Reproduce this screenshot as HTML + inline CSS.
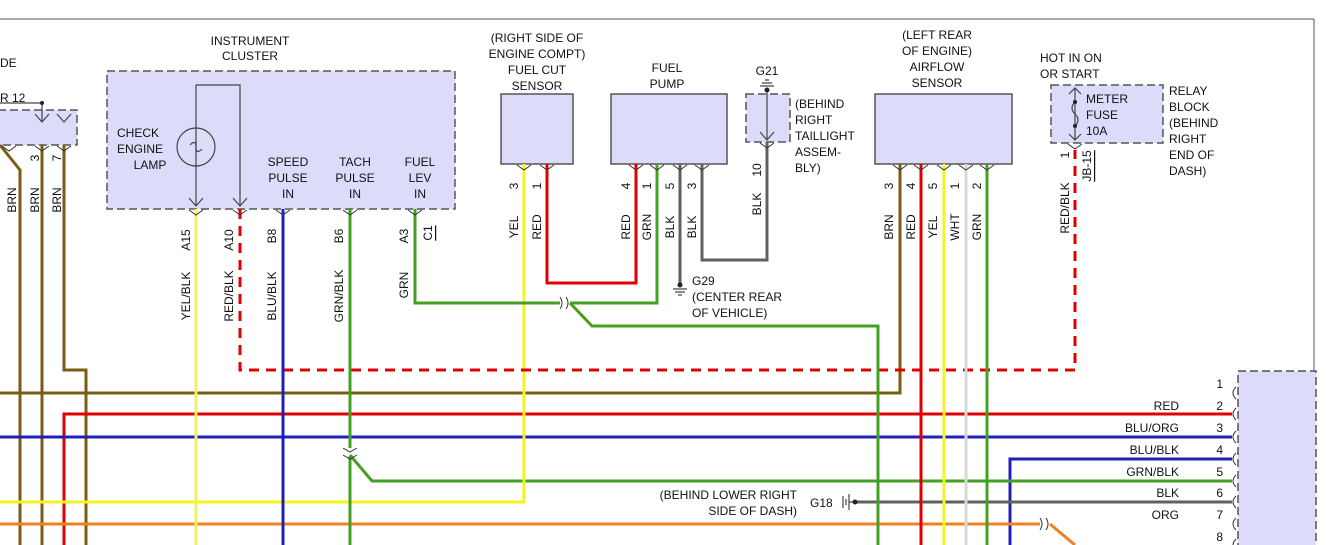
<!DOCTYPE html>
<html><head><meta charset="utf-8"><style>
html,body{margin:0;padding:0;background:#fff;}
svg{display:block;font-family:"Liberation Sans",Arial,sans-serif;font-size:12px;}
</style></head><body>
<svg width="1329" height="545" viewBox="0 0 1329 545" xmlns="http://www.w3.org/2000/svg">
<rect width="1329" height="545" fill="#fff"/>
<!-- frame -->
<line x1="0" y1="19" x2="1314" y2="19" stroke="#555" stroke-width="1"/>
<line x1="1314" y1="19" x2="1314" y2="545" stroke="#555" stroke-width="1"/>

<!-- boxes -->
<g stroke="#555" stroke-width="1.5" fill="#dcdcfa">
<rect x="-2" y="110" width="79" height="35" stroke-dasharray="8,4"/>
<rect x="107" y="71" width="348" height="138" stroke-dasharray="8,4"/>
<rect x="501" y="94" width="72" height="70"/>
<rect x="611" y="94" width="116" height="70"/>
<rect x="746" y="94" width="44" height="48" stroke-dasharray="8,4"/>
<rect x="875" y="94" width="137" height="70"/>
<rect x="1051" y="85" width="112" height="58" stroke-dasharray="8,4"/>
<rect x="1238" y="371" width="78" height="180" stroke-dasharray="8,4"/>
</g>

<!-- wires -->
<g fill="none" stroke-width="3">
<!-- left brown -->
<polyline points="0,145 20,170 20,545" stroke="#7a5c14"/>
<polyline points="42,145 42,545" stroke="#7a5c14"/>
<polyline points="64,145 64,370 86,370 86,545" stroke="#7a5c14"/>
<!-- horizontals -->
<polyline points="0,393 900,393 900,164" stroke="#7a5c14"/>
<polyline points="64,545 64,414 1232,414" stroke="#e00000"/>
<line x1="0" y1="437" x2="1232" y2="437" stroke="#2020b8"/>
<polyline points="1010,545 1010,459 1232,459" stroke="#2020b8"/>
<polyline points="350,455 372,481 1232,481" stroke="#44a020"/>
<polyline points="0,502 524,502 524,164" stroke="#f4f420"/>
<line x1="855" y1="502" x2="1232" y2="502" stroke="#606060"/>
<polyline points="0,524 1040,524" stroke="#f08020"/>
<polyline points="1050,524 1075,545" stroke="#f08020"/>
<!-- cluster wires -->
<line x1="196" y1="209" x2="196" y2="545" stroke="#f0f060"/>
<polyline points="240,209 240,370 1075,370 1075,150" stroke="#e00000" stroke-dasharray="10,7"/>
<line x1="283" y1="209" x2="283" y2="545" stroke="#2020b8"/>
<line x1="350" y1="209" x2="350" y2="448" stroke="#44a020"/>
<line x1="350" y1="456" x2="350" y2="545" stroke="#44a020"/>
<polyline points="415,209 415,303 560,303" stroke="#44a020"/>
<polyline points="570,303 657,303 657,164" stroke="#44a020"/>
<polyline points="570,303 592,326 878,326 878,545" stroke="#44a020"/>
<!-- fuel cut / pump -->
<polyline points="547,164 547,283 636,283 636,164" stroke="#e00000"/>
<line x1="680" y1="164" x2="680" y2="283" stroke="#606060"/>
<polyline points="702,164 702,260 767,260 767,142" stroke="#606060"/>
<!-- airflow -->
<line x1="921" y1="164" x2="921" y2="545" stroke="#e00000"/>
<line x1="944" y1="164" x2="944" y2="545" stroke="#f4f420"/>
<line x1="966" y1="164" x2="966" y2="545" stroke="#d8d8d8"/>
<line x1="987" y1="164" x2="987" y2="545" stroke="#44a020"/>
</g>

<!-- connector marks -->
<g fill="none" stroke="#333" stroke-width="1">
<path d="M2,146 l7,5 l7,-5 M35,146 l7,5 l7,-5 M57,146 l7,5 l7,-5"/>
<path d="M189,210 l7,5 l7,-5 M233,210 l7,5 l7,-5 M276,210 l7,5 l7,-5 M343,210 l7,5 l7,-5 M408,210 l7,5 l7,-5"/>
<path d="M517,165 l7,5 l7,-5 M540,165 l7,5 l7,-5 M629,165 l7,5 l7,-5 M650,165 l7,5 l7,-5 M673,165 l7,5 l7,-5 M695,165 l7,5 l7,-5 M760,143 l7,5 l7,-5"/>
<path d="M893,165 l7,5 l7,-5 M914,165 l7,5 l7,-5 M937,165 l7,5 l7,-5 M959,165 l7,5 l7,-5 M980,165 l7,5 l7,-5 M1068,144 l7,5 l7,-5"/>
<path d="M343,448 l7,4 l7,-4 M343,455 l7,4 l7,-4"/>
<path d="M560,297 q4,6 0,12 M566,297 q4,6 0,12 M1040,518 q4,6 0,12 M1046,518 q4,6 0,12"/>
<path d="M1236,387 q-6,6 0,12 M1236,408 q-6,6 0,12 M1236,431 q-6,6 0,12 M1236,453 q-6,6 0,12 M1236,475 q-6,6 0,12 M1236,496 q-6,6 0,12 M1236,518 q-6,6 0,12 M1236,539 q-6,6 0,12"/>
</g>

<!-- internals -->
<g fill="none" stroke="#444" stroke-width="1.2">
<polyline points="0,103 42,103 42,121 M42,103 64,103 64,121"/>
<circle cx="196" cy="147" r="19"/>
<path d="M190,145 q6,-6 6,2 q0,8 6,2"/>
<polyline points="196,85 240,85 240,206"/>
<line x1="196" y1="85" x2="196" y2="206"/>
<path d="M189,198 l7,8 l7,-8 M233,198 l7,8 l7,-8 M35,114 l7,8 l7,-8 M57,114 l7,8 l7,-8"/>
<line x1="767" y1="90" x2="767" y2="140"/>
<path d="M760,132 l7,8 l7,-8 M760,86 h14 M762,83 h10 M765,80 h4"/>
<line x1="1075" y1="88" x2="1075" y2="140"/>
<path d="M1069,94 l6,-6 l6,6 M1069,134 l6,6 l6,-6 M1075,102 q-6,6 0,12 q6,6 0,12"/>
<path d="M673,289 h14 M675,292 h10 M678,295 h4"/>
<path d="M843,496 v12 M846,499 v6 M849,494 v16 M853,502 h-4"/>
</g>
<g fill="#222"><circle cx="42" cy="103" r="2"/><circle cx="767" cy="90" r="2.5"/><circle cx="680" cy="285" r="2.5"/><circle cx="855" cy="502" r="2.5"/><circle cx="1075" cy="102" r="2"/><circle cx="1075" cy="126" r="2"/></g>

<!-- horizontal labels -->
<g fill="#111" text-anchor="middle">
<text x="250" y="45">INSTRUMENT</text><text x="250" y="60">CLUSTER</text>
<text x="138" y="137">CHECK</text><text x="140" y="153">ENGINE</text><text x="150" y="169">LAMP</text>
<text x="288" y="166">SPEED</text><text x="288" y="182">PULSE</text><text x="288" y="198">IN</text>
<text x="355" y="166">TACH</text><text x="355" y="182">PULSE</text><text x="355" y="198">IN</text>
<text x="420" y="166">FUEL</text><text x="420" y="182">LEV</text><text x="420" y="198">IN</text>
<text x="537" y="42">(RIGHT SIDE OF</text><text x="537" y="58">ENGINE COMPT)</text><text x="537" y="74">FUEL CUT</text><text x="537" y="90">SENSOR</text>
<text x="667" y="72">FUEL</text><text x="667" y="88">PUMP</text>
<text x="767" y="75">G21</text>
<text x="937" y="39">(LEFT REAR</text><text x="937" y="55">OF ENGINE)</text><text x="937" y="71">AIRFLOW</text><text x="937" y="87">SENSOR</text>
</g>
<g fill="#111">
<text x="0" y="67">DE</text><text x="0" y="102">R 12</text>
<text x="795" y="108">(BEHIND</text><text x="795" y="124">RIGHT</text><text x="795" y="140">TAILLIGHT</text><text x="795" y="156">ASSEM-</text><text x="795" y="172">BLY)</text>
<text x="692" y="285">G29</text><text x="692" y="301">(CENTER REAR</text><text x="692" y="317">OF VEHICLE)</text>
<text x="1040" y="62">HOT IN ON</text><text x="1040" y="78">OR START</text>
<text x="1086" y="103">METER</text><text x="1086" y="119">FUSE</text><text x="1086" y="135">10A</text>
<text x="1169" y="95">RELAY</text><text x="1169" y="111">BLOCK</text><text x="1169" y="127">(BEHIND</text><text x="1169" y="143">RIGHT</text><text x="1169" y="159">END OF</text><text x="1169" y="175">DASH)</text>
<text x="810" y="507">G18</text>
</g>
<g fill="#111" text-anchor="end">
<text x="797" y="499">(BEHIND LOWER RIGHT</text><text x="797" y="515">SIDE OF DASH)</text>
<text x="1179" y="410">RED</text><text x="1179" y="432">BLU/ORG</text><text x="1179" y="454">BLU/BLK</text><text x="1179" y="476">GRN/BLK</text><text x="1179" y="497">BLK</text><text x="1179" y="519">ORG</text>
<text x="1223" y="388">1</text><text x="1223" y="410">2</text><text x="1223" y="432">3</text><text x="1223" y="454">4</text><text x="1223" y="476">5</text><text x="1223" y="497">6</text><text x="1223" y="519">7</text><text x="1223" y="541">8</text>
</g>

<!-- rotated labels -->
<g fill="#111" text-anchor="middle" dominant-baseline="central">
<text transform="translate(12,200) rotate(-90)">BRN</text>
<text transform="translate(35,158) rotate(-90)">3</text><text transform="translate(35,200) rotate(-90)">BRN</text>
<text transform="translate(57,158) rotate(-90)">7</text><text transform="translate(57,200) rotate(-90)">BRN</text>
<text transform="translate(186,240) rotate(-90)">A15</text><text transform="translate(186,296) rotate(-90)">YEL/BLK</text>
<text transform="translate(229,240) rotate(-90)">A10</text><text transform="translate(229,296) rotate(-90)">RED/BLK</text>
<text transform="translate(272,236) rotate(-90)">B8</text><text transform="translate(272,296) rotate(-90)">BLU/BLK</text>
<text transform="translate(339,236) rotate(-90)">B6</text><text transform="translate(339,296) rotate(-90)">GRN/BLK</text>
<text transform="translate(404,236) rotate(-90)">A3</text><text transform="translate(404,285) rotate(-90)">GRN</text>
<text transform="translate(428,233) rotate(-90)" text-decoration="underline">C1</text>
<text transform="translate(514,186) rotate(-90)">3</text><text transform="translate(514,227) rotate(-90)">YEL</text>
<text transform="translate(537,186) rotate(-90)">1</text><text transform="translate(537,227) rotate(-90)">RED</text>
<text transform="translate(626,186) rotate(-90)">4</text><text transform="translate(626,227) rotate(-90)">RED</text>
<text transform="translate(647,186) rotate(-90)">1</text><text transform="translate(647,227) rotate(-90)">GRN</text>
<text transform="translate(670,186) rotate(-90)">5</text><text transform="translate(670,227) rotate(-90)">BLK</text>
<text transform="translate(692,186) rotate(-90)">3</text><text transform="translate(692,227) rotate(-90)">BLK</text>
<text transform="translate(757,170) rotate(-90)">10</text><text transform="translate(757,204) rotate(-90)">BLK</text>
<text transform="translate(889,186) rotate(-90)">3</text><text transform="translate(889,227) rotate(-90)">BRN</text>
<text transform="translate(911,186) rotate(-90)">4</text><text transform="translate(911,227) rotate(-90)">RED</text>
<text transform="translate(933,186) rotate(-90)">5</text><text transform="translate(933,227) rotate(-90)">YEL</text>
<text transform="translate(955,186) rotate(-90)">1</text><text transform="translate(955,227) rotate(-90)">WHT</text>
<text transform="translate(977,186) rotate(-90)">2</text><text transform="translate(977,227) rotate(-90)">GRN</text>
<text transform="translate(1065,155) rotate(-90)">1</text><text transform="translate(1065,208) rotate(-90)">RED/BLK</text>
<text transform="translate(1087,166) rotate(-90)" text-decoration="underline">JB-15</text>
</g>
</svg>
</body></html>
